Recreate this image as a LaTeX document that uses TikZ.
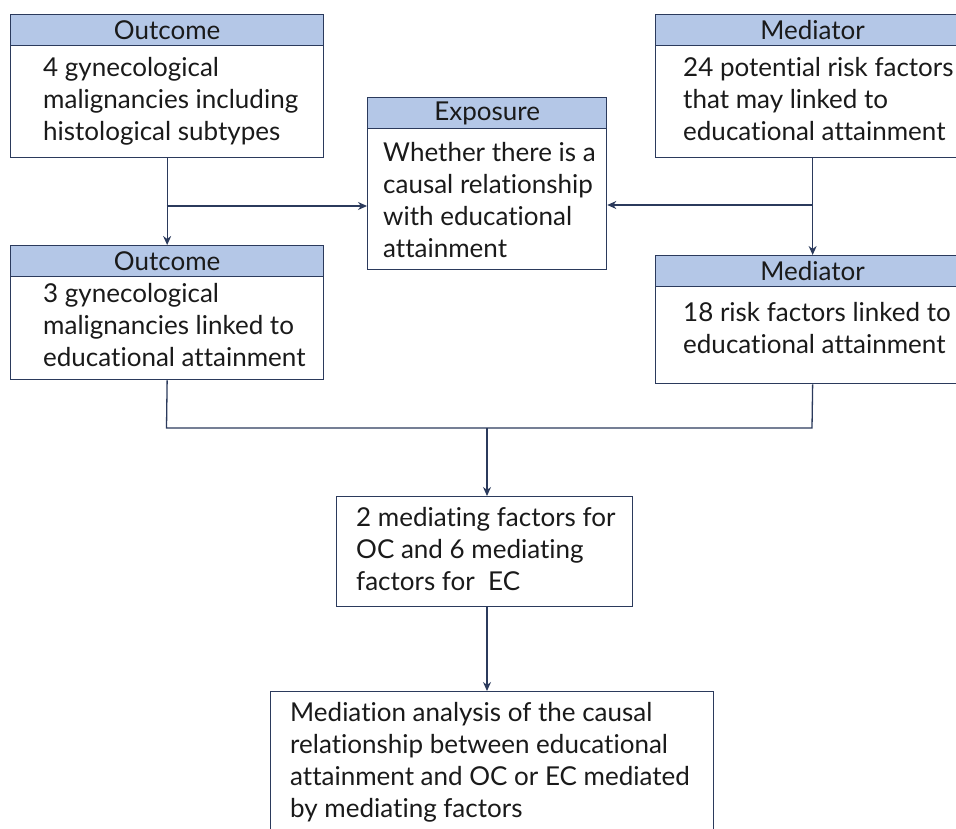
\documentclass[tikz,border=0pt]{standalone}
\usepackage{fontspec}
\setmainfont{Lato}[Ligatures={NoCommon}]
\usetikzlibrary{arrows.meta}
\definecolor{navy}{HTML}{2B3A5C}
\definecolor{hdrblue}{HTML}{B4C7E7}
\definecolor{ink}{HTML}{1A1A1A}
\begin{document}
\begin{tikzpicture}[x=1pt,y=1pt,
  every node/.style={font=\fontsize{26}{32}\selectfont, text=ink},
  hdr/.style={draw=navy, line width=1.3pt, fill=hdrblue, anchor=north west, inner sep=0pt},
  bodybox/.style={draw=navy, line width=1.3pt, fill=white, anchor=north west, inner sep=0pt},
  txt/.style={anchor=base west, align=left, inner sep=0pt},
  arr/.style={draw=navy, line width=1.3pt, -{Stealth[length=9pt,width=8pt]}},
  conn/.style={draw=navy, line width=1.3pt, line join=miter}]
\useasboundingbox (0,0) rectangle (956,-829);
\clip (0,0) rectangle (956,-829);
% Outcome 1
\node[bodybox, minimum width=313pt, minimum height=112pt] (o1) at (10,-45) {};
\node[hdr, minimum width=313pt, minimum height=31pt] (o1h) at (10,-14) {Outcome};
\node[txt] (o1t) at (43,-141) {4 gynecological\\malignancies including\\histological subtypes};
% Exposure
\node[bodybox, minimum width=239pt, minimum height=141pt] (ex) at (367,-128) {};
\node[hdr, minimum width=239pt, minimum height=31pt] (exh) at (367,-97) {Exposure};
\node[txt] (ext) at (383,-258) {Whether there is a\\causal relationship\\with educational\\attainment};
% Mediator 1
\node[bodybox, minimum width=314pt, minimum height=112pt] (m1) at (655,-45) {};
\node[hdr, minimum width=314pt, minimum height=31pt] (m1h) at (655,-14) {Mediator};
\node[txt] (m1t) at (683,-141) {24 potential risk factors\\that may linked to\\educational attainment};
% Outcome 2
\node[bodybox, minimum width=313pt, minimum height=103pt] (o2) at (10,-276) {};
\node[hdr, minimum width=313pt, minimum height=31pt] (o2h) at (10,-245) {Outcome};
\node[txt] (o2t) at (43,-366) {3 gynecological\\malignancies linked to\\educational attainment};
% Mediator 2
\node[bodybox, minimum width=314pt, minimum height=97pt] (m2) at (655,-286) {};
\node[hdr, minimum width=314pt, minimum height=31pt] (m2h) at (655,-255) {Mediator};
\node[txt] (m2t) at (683,-353) {18 risk factors linked to\\educational attainment};
% Box 5
\node[bodybox, minimum width=296pt, minimum height=110pt] (b5) at (336,-496) {};
\node[txt] (b5t) at (356,-590) {2 mediating factors for\\OC and 6 mediating\\factors for\ \ EC};
% Box 6
\node[bodybox, minimum width=443pt, minimum height=170pt] (b6) at (270,-691) {};
\node[txt] (b6t) at (290,-817) {Mediation analysis of the causal\\relationship between educational\\attainment and OC or EC mediated\\by mediating factors};
% connectors
\coordinate (br1) at (166.5,-206);
\coordinate (br2) at (812,-205);
\coordinate (jl) at (166.5,-428);
\coordinate (jr) at (812,-428);
\coordinate (jm) at (487,-428);
\draw[arr] (o1.south) -- (o2h.north);
\draw[arr] (br1) -- (br1 -| ex.west);
\draw[arr] (m1.south) -- (m2h.north);
\draw[arr] (br2) -- (br2 -| ex.east);
\draw[conn] (o2.south) -- (jl) -- (jr) -- (m2.south);
\draw[arr] (jm) -- (jm |- b5.north);
\draw[arr] (jm |- b5.south) -- (jm |- b6.north);
\end{tikzpicture}
\end{document}
